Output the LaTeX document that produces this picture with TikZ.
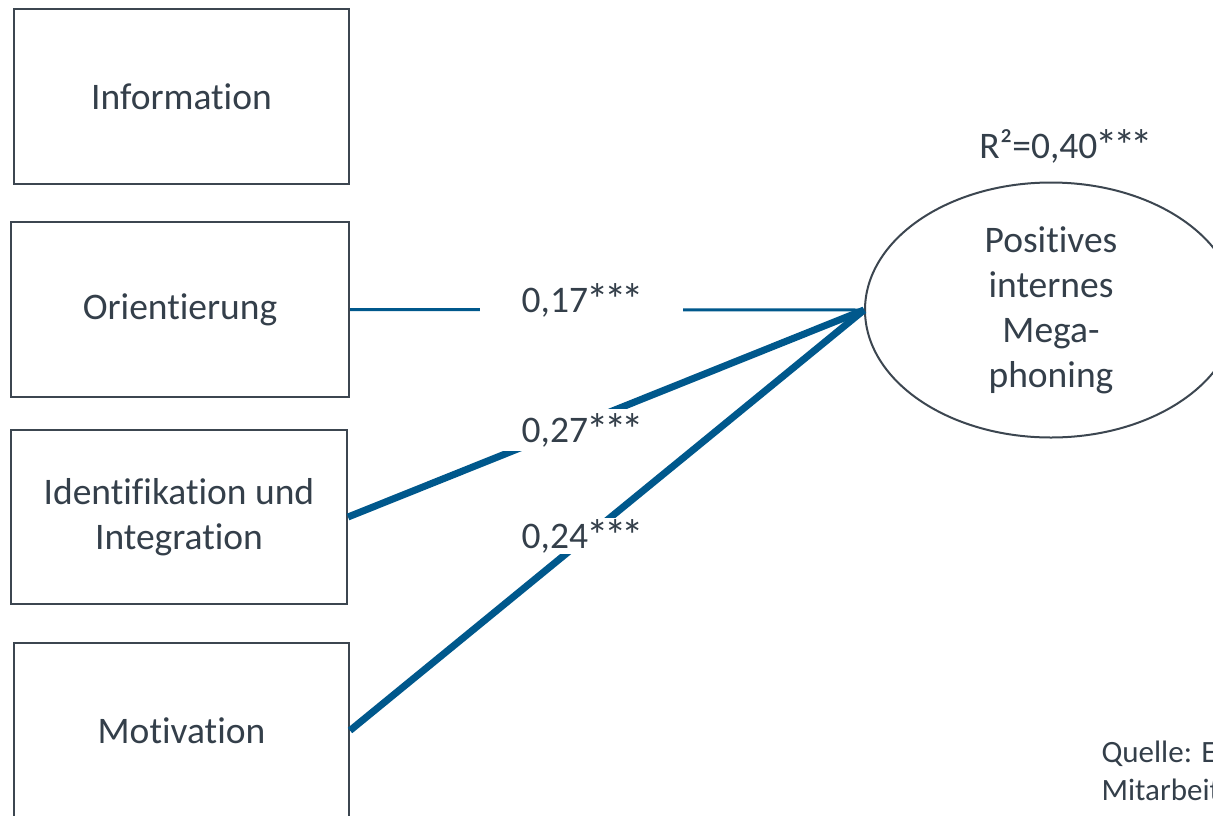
\documentclass[tikz,border=0pt]{standalone}
\usepackage{fontspec}
\setmainfont[Ligatures={NoCommon,NoRare}]{Carlito}
\usetikzlibrary{shapes.geometric}
\definecolor{txt}{HTML}{343F4A}
\definecolor{frame}{HTML}{3C4650}
\definecolor{path}{HTML}{00588C}
% significance stars, set a little larger and tighter than the font's own
\newcommand{\onestar}{\makebox[14.5pt]{*}}
\newcommand{\stars}{\kern1pt\raisebox{-3pt}{\scalebox{1.2}{\onestar\onestar\onestar}}}
\begin{document}
\begin{tikzpicture}[x=1pt,y=-1pt,
  every node/.style={text=txt,font=\fontsize{37.5}{45}\selectfont},
  factor/.style={draw=frame,line width=2pt,rectangle,inner sep=0pt,align=center},
  construct/.style={draw=frame,line width=2pt,ellipse,inner sep=0pt,align=center,
    minimum width=372pt,minimum height=255pt},
  weight/.style={fill=white,inner sep=0pt,minimum width=203pt,text height=24pt,text depth=0pt},
  thinpath/.style={draw=path,line width=3pt},
  thickpath/.style={draw=path,line width=7pt}]
  \useasboundingbox (0,0) rectangle (1213,815);
  \clip (0,0) rectangle (1213,815);

  % predictor boxes
  \node[factor,minimum width=335pt,minimum height=175pt] (info) at (181.5,96.5) {Information};
  \node[factor,minimum width=338pt,minimum height=175pt] (orient) at (180,309.5) {Orientierung};
  \node[factor,minimum width=336pt,minimum height=174pt] (ident) at (179,517) {Identifikation und\\Integration};
  \node[factor,minimum width=335pt,minimum height=175pt] (motiv) at (181.5,730.5) {Motivation};

  % outcome
  \node[construct] (mega) at (1051,310) {Positives\\internes\\Mega-\\phoning};
  \node (r2) at (1065,146) {R²=0,40\stars};

  % paths
  \draw[thinpath] (orient.east) -- (mega.west);
  \draw[thickpath] (ident.east) -- (mega.west);
  \draw[thickpath] (motiv.east) -- (mega.west);

  % path coefficients
  \node[weight,minimum height=42pt] (w1) at (581.5,300) {0,17\stars};
  \node[weight,minimum height=42pt] (w2) at (581.5,430) {0,27\stars};
  \node[weight,minimum height=36pt] (w3) at (581.5,536) {0,24\stars};

  % source note
  \node[anchor=base west,font=\fontsize{31}{38}\selectfont] (src1) at (1098,762) {Quelle: E};
  \node[anchor=base west,font=\fontsize{31}{38}\selectfont] (src2) at (1098,800) {Mitarbeit};
\end{tikzpicture}
\end{document}
